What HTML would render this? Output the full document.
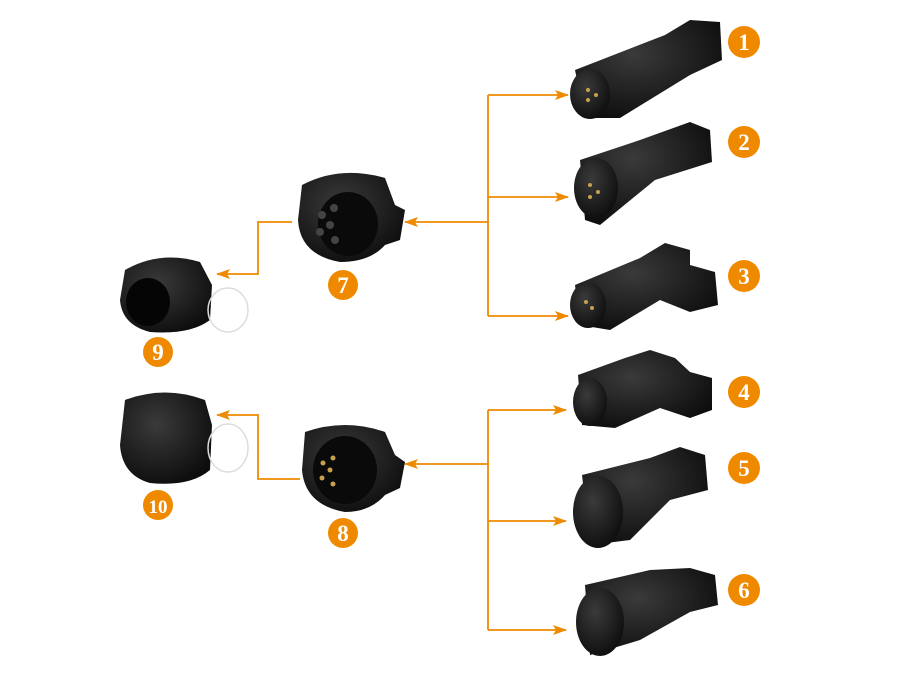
<!DOCTYPE html>
<html><head><style>
html,body{margin:0;padding:0;background:#fff;}
svg{display:block;}
.n{font-family:"Liberation Serif",serif;font-weight:bold;font-size:23px;fill:#fff;text-anchor:middle;}
</style></head><body>
<svg width="910" height="676" viewBox="0 0 910 676" xmlns="http://www.w3.org/2000/svg">
<defs>
<marker id="a" markerWidth="14" markerHeight="10" refX="13" refY="5" orient="auto" markerUnits="userSpaceOnUse">
<path d="M0,0 L14,5 L0,10 L3,5 Z" fill="#ef8a00"/></marker>
<radialGradient id="g" cx="40%" cy="35%" r="70%"><stop offset="0" stop-color="#3a3a3a"/><stop offset="1" stop-color="#0d0d0d"/></radialGradient>
</defs>
<g stroke="#ef8a00" stroke-width="1.8" fill="none">
<line x1="488" y1="95" x2="488" y2="316"/>
<line x1="488" y1="95" x2="568" y2="95" marker-end="url(#a)"/>
<line x1="488" y1="197" x2="568" y2="197" marker-end="url(#a)"/>
<line x1="488" y1="316" x2="568" y2="316" marker-end="url(#a)"/>
<line x1="488" y1="222" x2="405" y2="222" marker-end="url(#a)"/>
<polyline points="292,222 258,222 258,274 217,274" marker-end="url(#a)"/>
<line x1="488" y1="410" x2="488" y2="630"/>
<line x1="488" y1="410" x2="566" y2="410" marker-end="url(#a)"/>
<line x1="488" y1="521" x2="566" y2="521" marker-end="url(#a)"/>
<line x1="488" y1="630" x2="566" y2="630" marker-end="url(#a)"/>
<line x1="488" y1="464" x2="405" y2="464" marker-end="url(#a)"/>
<polyline points="300,479 258,479 258,415 217,415" marker-end="url(#a)"/>
</g>
<g fill="url(#g)">
<path d="M575,70 L665,35 L690,20 L720,22 L722,60 L690,75 L620,118 L585,118 Z"/>
<ellipse cx="590" cy="94" rx="20" ry="25"/>
<path d="M580,160 L640,140 L690,122 L710,130 L712,162 L655,180 L600,225 L585,220 Z"/>
<ellipse cx="596" cy="188" rx="22" ry="30"/>
<path d="M575,285 L640,258 L665,243 L690,250 L690,265 L715,272 L718,305 L690,312 L660,300 L610,330 L580,325 Z"/>
<ellipse cx="588" cy="305" rx="18" ry="23"/>
<path d="M578,375 L625,358 L650,350 L675,358 L690,372 L712,378 L712,410 L690,418 L660,408 L615,428 L582,425 Z"/>
<ellipse cx="590" cy="402" rx="17" ry="24"/>
<path d="M582,475 L650,458 L680,447 L705,455 L708,490 L670,500 L630,540 L590,545 Z"/>
<ellipse cx="598" cy="512" rx="25" ry="36"/>
<path d="M585,585 L650,570 L690,568 L715,575 L718,605 L690,612 L640,640 L590,655 Z"/>
<ellipse cx="600" cy="622" rx="24" ry="34"/>
<path d="M302,185 Q340,165 385,178 L395,205 L405,210 L400,240 L385,245 Q370,262 340,262 Q300,255 298,220 Z"/>
<path d="M305,432 Q345,418 385,432 L395,455 L405,462 L400,488 L385,495 Q370,512 345,512 Q305,505 302,470 Z"/>
<path d="M125,270 Q160,250 200,262 L212,285 L210,320 Q190,335 150,332 Q122,325 120,300 Z"/>
<path d="M125,400 Q165,385 205,400 L212,425 L210,470 Q190,487 150,483 Q122,475 120,445 Z"/>
</g>
<g>
<ellipse cx="148" cy="302" rx="22" ry="24" fill="#050505"/>
<ellipse cx="348" cy="224" rx="30" ry="32" fill="#0a0a0a"/>
<ellipse cx="345" cy="470" rx="32" ry="34" fill="#0a0a0a"/>
</g>
<g fill="#444">
<circle cx="322" cy="215" r="4"/><circle cx="334" cy="208" r="4"/><circle cx="330" cy="225" r="4"/><circle cx="320" cy="232" r="4"/><circle cx="335" cy="240" r="4"/>
</g>
<g fill="#c8a050">
<circle cx="323" cy="463" r="2.5"/><circle cx="333" cy="458" r="2.5"/><circle cx="330" cy="470" r="2.5"/><circle cx="322" cy="478" r="2.5"/><circle cx="333" cy="484" r="2.5"/>
<circle cx="588" cy="90" r="2"/><circle cx="596" cy="95" r="2"/><circle cx="588" cy="100" r="2"/>
<circle cx="590" cy="185" r="2"/><circle cx="598" cy="192" r="2"/><circle cx="590" cy="197" r="2"/>
<circle cx="586" cy="302" r="2"/><circle cx="592" cy="308" r="2"/>
</g>
<g stroke="#ddd" stroke-width="1.5" fill="none">
<ellipse cx="228" cy="310" rx="20" ry="22"/>
<ellipse cx="228" cy="448" rx="20" ry="24"/>
</g>
<g fill="#ef8a00">
<circle cx="744" cy="42" r="16"/><circle cx="744" cy="142" r="16"/><circle cx="744" cy="276" r="16"/>
<circle cx="744" cy="392" r="16"/><circle cx="744" cy="468" r="16"/><circle cx="744" cy="590" r="16"/>
<circle cx="343" cy="285" r="15"/><circle cx="343" cy="533" r="15"/>
<circle cx="158" cy="352" r="15"/><circle cx="158" cy="505" r="15"/>
</g>
<text class="n" x="744" y="50">1</text><text class="n" x="744" y="150">2</text><text class="n" x="744" y="284">3</text>
<text class="n" x="744" y="400">4</text><text class="n" x="744" y="476">5</text><text class="n" x="744" y="598">6</text>
<text class="n" x="343" y="293">7</text><text class="n" x="343" y="541">8</text>
<text class="n" x="158" y="360">9</text><text class="n" x="158" y="513" style="font-size:19px">10</text>
</svg>
</body></html>
